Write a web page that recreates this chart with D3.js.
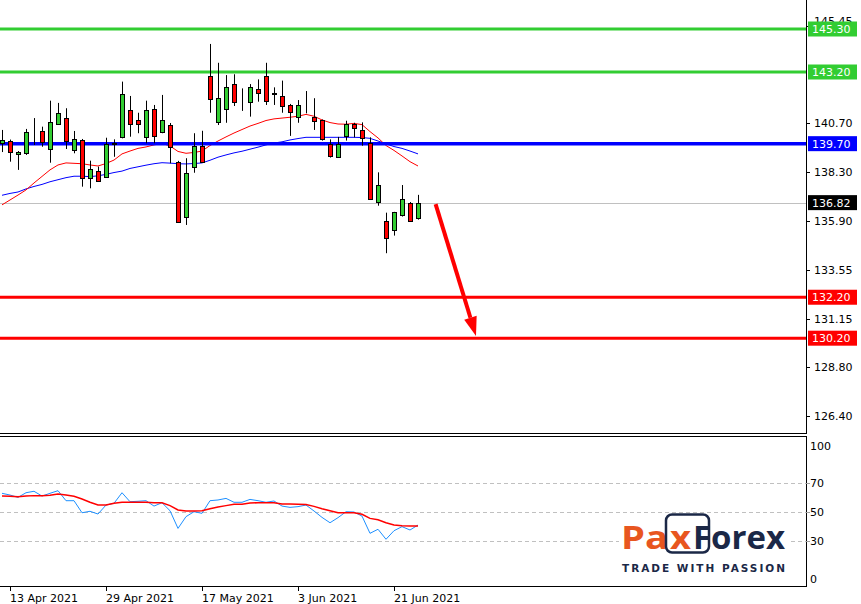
<!DOCTYPE html>
<html><head><meta charset="utf-8">
<script src="https://cdn.jsdelivr.net/npm/d3@7/dist/d3.min.js"></script>
<style>body{margin:0;background:#fff}svg{display:block}</style>
</head><body><svg id="c" width="861" height="604"></svg>
<script>
// ---------- DATA ----------
const dates = ["2021-04-12","2021-04-13","2021-04-14","2021-04-15","2021-04-16","2021-04-19","2021-04-20","2021-04-21","2021-04-22","2021-04-23","2021-04-26","2021-04-27","2021-04-28","2021-04-29","2021-04-30",
"2021-05-03","2021-05-04","2021-05-05","2021-05-06","2021-05-07","2021-05-10","2021-05-11","2021-05-12","2021-05-13","2021-05-14","2021-05-17","2021-05-18","2021-05-19","2021-05-20","2021-05-21","2021-05-24","2021-05-25","2021-05-26","2021-05-27","2021-05-28",
"2021-06-01","2021-06-02","2021-06-03","2021-06-04","2021-06-07","2021-06-08","2021-06-09","2021-06-10","2021-06-11","2021-06-14","2021-06-15","2021-06-16","2021-06-17","2021-06-18","2021-06-21","2021-06-22","2021-06-23","2021-06-24"];
const openP  = [139.72,139.85,139.18,139.26,140.55,140.32,139.44,140.65,140.94,139.39,139.88,138.01,138.35,138.07,139.70,140.04,141.34,140.86,140.01,141.39,140.29,140.61,138.79,136.11,138.58,139.59,143.01,140.74,141.39,142.61,141.77,141.75,142.36,143.01,142.15,142.03,141.59,141.02,141.77,140.99,140.86,139.69,139.07,140.09,140.66,140.37,139.72,136.84,135.93,135.49,136.22,136.82,136.06];
const highP  = [140.37,139.90,139.34,140.42,140.95,140.53,141.80,141.69,141.43,140.32,139.93,138.87,138.58,139.99,139.91,142.73,142.03,141.21,141.80,141.59,142.08,140.71,138.86,138.99,140.21,140.33,144.57,143.65,143.05,143.09,142.40,142.61,142.84,143.65,142.45,142.78,141.64,141.83,142.27,141.92,140.88,139.91,140.03,140.82,140.72,140.74,140.01,138.30,136.33,136.37,137.68,136.85,137.20];
const lowP   = [139.29,138.82,138.42,139.15,139.64,139.55,138.77,140.63,139.44,139.23,137.60,137.52,137.83,138.05,139.06,139.96,140.04,140.21,139.72,139.72,140.21,138.74,135.88,135.73,138.28,138.80,141.21,140.61,140.72,141.54,141.30,141.02,141.75,141.59,141.59,141.21,140.08,140.72,141.18,140.37,139.85,139.02,139.07,139.85,140.01,139.60,136.95,136.67,134.35,135.21,136.14,135.88,135.99];
const closeP = [139.88,139.31,139.31,140.26,140.58,139.80,140.74,141.18,139.85,139.91,138.04,138.45,137.88,139.69,139.72,142.11,140.66,140.65,141.34,140.08,140.86,139.52,135.89,138.25,139.59,138.82,141.87,141.92,142.45,141.72,141.79,142.45,142.16,141.80,142.17,141.54,141.26,141.59,141.78,140.82,139.91,139.10,139.69,140.66,140.48,139.96,136.98,137.68,135.08,136.35,136.98,135.93,136.82];
const maFast = [136.71,136.95,137.19,137.44,137.78,138.10,138.42,138.66,138.76,138.74,138.72,138.66,138.61,138.73,138.90,139.20,139.34,139.47,139.54,139.64,139.71,139.59,139.32,139.23,139.27,139.34,139.61,139.83,140.03,140.22,140.39,140.56,140.69,140.83,140.91,140.95,140.99,141.04,141.13,141.04,140.86,140.73,140.66,140.65,140.69,140.63,140.29,139.98,139.61,139.37,139.10,138.82,138.61];
const maSlow = [137.18,137.27,137.34,137.49,137.61,137.71,137.84,137.94,138.04,138.11,138.11,138.09,138.13,138.20,138.29,138.36,138.49,138.57,138.65,138.72,138.77,138.75,138.72,138.71,138.73,138.76,138.89,139.04,139.15,139.25,139.33,139.43,139.53,139.64,139.73,139.79,139.88,139.95,140.01,140.01,140.01,140.01,140.01,140.01,140.01,140.00,139.96,139.83,139.69,139.56,139.47,139.34,139.20];
const rsiMain = [63.1,61.9,60.3,63.5,64.5,61.2,63.1,64.9,58.0,58.0,49.7,50.7,48.8,55.0,56.2,63.5,57.3,57.6,58.0,54.3,56.6,51.1,38.9,47.0,50.4,49.3,58.0,58.5,59.6,56.9,56.9,58.9,58.0,56.9,57.8,54.3,53.4,53.9,55.0,50.9,46.5,42.8,46.3,50.4,50.2,47.4,35.5,38.3,31.4,37.3,40.1,37.8,41.2];
const rsiSignal = [61.2,61.0,60.8,61.2,61.5,61.5,61.7,62.6,61.9,61.0,59.2,56.9,55.0,55.0,56.2,56.9,56.9,56.9,56.9,56.6,56.6,54.6,51.6,50.9,50.9,51.1,52.5,53.7,54.6,55.5,55.5,56.4,56.6,56.6,56.6,55.7,55.7,55.5,55.3,54.1,52.5,51.1,49.7,49.7,49.7,48.6,45.8,44.9,42.8,41.2,40.8,40.6,40.6];
const resistanceLevels = [145.30, 143.20];
const pivotLevels = [139.70];
const supportLevels = [132.20, 130.20];
const lastPrice = 136.82;
const priceTicks = [145.45,140.70,138.30,135.90,133.55,131.15,128.80,126.40];
const rsiTicks = [100,70,50,30,0];
const rsiLevels = [70,50,30];
const xTickDates = ["2021-04-13","2021-04-29","2021-05-17","2021-06-03","2021-06-21"];
const xTickLabels = ["13 Apr 2021","29 Apr 2021","17 May 2021","3 Jun 2021","21 Jun 2021"];
const arrowStart = {bar: 54.2, price: 136.75};
const arrowEnd   = {bar: 59.25, price: 130.31};

// ---------- SCALES ----------
const svg = d3.select("#c");
const FONT = "'DejaVu Sans', Tahoma, sans-serif";
const axisX = 806;
const x = d3.scaleLinear().domain([0, 100]).range([2, 802]);
const y = d3.scaleLinear().domain([126.40, 145.30]).range([416, 29]);
const yr = d3.scaleLinear().domain([30, 70]).range([541.3, 483.3]);
const idx = d => dates.indexOf(d);
const GREEN = "#32cd32", RED = "#ff0000", BLUE = "#0000ff";

svg.append("defs").append("clipPath").attr("id","mainClip")
  .append("rect").attr("x",0).attr("y",0).attr("width",axisX).attr("height",433);

const main = svg.append("g").attr("clip-path","url(#mainClip)");

main.append("line").attr("x1",0).attr("x2",axisX)
  .attr("y1",Math.round(y(lastPrice))+0.5).attr("y2",Math.round(y(lastPrice))+0.5)
  .attr("stroke","#c0c0c0").attr("stroke-width",1);

function levelLine(v,color){
  main.append("line").attr("x1",0).attr("x2",axisX+3)
    .attr("y1",y(v)).attr("y2",y(v)).attr("stroke",color).attr("stroke-width",3);
}
resistanceLevels.forEach(v=>levelLine(v,GREEN));
supportLevels.forEach(v=>levelLine(v,RED));

const idxArr = d3.range(dates.length);
main.append("path").datum(idxArr).attr("fill","none").attr("stroke",BLUE).attr("stroke-width",1)
  .attr("d", d3.line().x(i=>x(i)).y(i=>y(maSlow[i])));
main.append("path").datum(idxArr).attr("fill","none").attr("stroke",RED).attr("stroke-width",1)
  .attr("d", d3.line().x(i=>x(i)).y(i=>y(maFast[i])));

pivotLevels.forEach(v=>{
  main.append("line").attr("x1",0).attr("x2",axisX+3)
    .attr("y1",y(v)).attr("y2",y(v)).attr("stroke",BLUE).attr("stroke-width",3.5);
});

const cg = main.append("g");
idxArr.forEach(i=>{
  const cx = Math.round(x(i));
  cg.append("line").attr("x1",cx+0.5).attr("x2",cx+0.5)
    .attr("y1",y(highP[i])).attr("y2",y(lowP[i])).attr("stroke","#000").attr("stroke-width",1);
  const top = Math.round(y(Math.max(openP[i],closeP[i])));
  const bot = Math.round(y(Math.min(openP[i],closeP[i])));
  cg.append("rect").attr("x",cx-1.5).attr("width",4)
    .attr("y",top+0.5).attr("height",Math.max(0,bot-top))
    .attr("fill", closeP[i]>=openP[i] ? GREEN : RED)
    .attr("stroke","#000").attr("stroke-width",1);
});

{
  const x0 = x(arrowStart.bar), y0 = y(arrowStart.price);
  const x1 = x(arrowEnd.bar), y1 = y(arrowEnd.price);
  const dx = x1-x0, dy = y1-y0, L = Math.hypot(dx,dy);
  const ux = dx/L, uy = dy/L, nx = -uy, ny = ux;
  const hl = 19, hw = 6.5;
  const bx = x1-ux*hl, by = y1-uy*hl;
  main.append("line").attr("x1",x0).attr("y1",y0).attr("x2",bx).attr("y2",by)
    .attr("stroke",RED).attr("stroke-width",4);
  main.append("polygon").attr("points",[[x1,y1],[bx+nx*hw,by+ny*hw],[bx-nx*hw,by-ny*hw]].map(p=>p.join(",")).join(" "))
    .attr("fill",RED);
}

// ---------- RIGHT PRICE AXIS ----------
svg.append("line").attr("x1",axisX+0.5).attr("x2",axisX+0.5).attr("y1",0).attr("y2",433.5).attr("stroke","#000");
svg.append("line").attr("x1",0).attr("x2",axisX+1).attr("y1",433.5).attr("y2",433.5).attr("stroke","#000");
const pa = svg.append("g");
priceTicks.forEach(t=>{
  const yy = Math.round(y(t))+0.5;
  const top = t > 145;
  pa.append("line").attr("x1",axisX).attr("x2",axisX+4).attr("y1",yy).attr("y2",yy).attr("stroke","#000");
  pa.append("text").attr("x",814).attr("y",top ? 21 : y(t)).attr("dy","0.36em")
    .attr("font-family",FONT).attr("font-size",11).attr("fill","#000").text(t.toFixed(2));
});
function priceLabel(v,bg){
  const yy = y(v);
  pa.append("rect").attr("x",808).attr("y",yy-7.5).attr("width",49).attr("height",15).attr("fill",bg);
  pa.append("text").attr("x",812).attr("y",yy).attr("dy","0.36em")
    .attr("font-family",FONT).attr("font-size",11).attr("fill","#fff").text(v.toFixed(2));
}
resistanceLevels.forEach(v=>priceLabel(v,GREEN));
pivotLevels.forEach(v=>priceLabel(v,BLUE));
priceLabel(lastPrice,"#000");
supportLevels.forEach(v=>priceLabel(v,RED));

// ---------- RSI PANEL ----------
svg.append("line").attr("x1",0).attr("x2",axisX+1).attr("y1",436.5).attr("y2",436.5).attr("stroke","#000");
svg.append("line").attr("x1",axisX+0.5).attr("x2",axisX+0.5).attr("y1",436.5).attr("y2",586.5).attr("stroke","#000");
svg.append("line").attr("x1",0).attr("x2",axisX+1).attr("y1",586.5).attr("y2",586.5).attr("stroke","#000");
const rg = svg.append("g");
rsiLevels.forEach(v=>{
  const yy = Math.round(yr(v))+0.5;
  rg.append("line").attr("x1",0).attr("x2",axisX).attr("y1",yy).attr("y2",yy)
    .attr("stroke","#c0c0c0").attr("stroke-dasharray","4,3");
  rg.append("line").attr("x1",axisX).attr("x2",axisX+4).attr("y1",yy).attr("y2",yy).attr("stroke","#a0a0a0");
});
rsiTicks.forEach(v=>{
  let yy = yr(v);
  yy = Math.max(446, Math.min(579, yy));
  rg.append("text").attr("x",810).attr("y",yy).attr("dy","0.36em")
    .attr("font-family",FONT).attr("font-size",11).attr("fill","#000").text(v);
});
rg.append("path").datum(idxArr).attr("fill","none").attr("stroke","#1e90ff").attr("stroke-width",1)
  .attr("d", d3.line().x(i=>x(i)).y(i=>yr(rsiMain[i])));
rg.append("path").datum(idxArr).attr("fill","none").attr("stroke",RED).attr("stroke-width",1.5)
  .attr("d", d3.line().x(i=>x(i)).y(i=>yr(rsiSignal[i])));

// ---------- X AXIS ----------
xTickDates.forEach((d,k)=>{
  const xx = Math.round(x(idx(d)))+0.5;
  svg.append("line").attr("x1",xx).attr("x2",xx).attr("y1",586).attr("y2",591).attr("stroke","#000");
  svg.append("text").attr("x",xx-0.5).attr("y",598).attr("dy","0.36em")
    .attr("font-family",FONT).attr("font-size",11).attr("fill","#000").text(xTickLabels[k]);
});

// ---------- LOGO ----------
const lg = svg.append("g");
lg.append("rect").attr("x",619).attr("y",515).attr("width",172).attr("height",62).attr("fill","#fff");
const ORANGE = "#e8561f", NAVY = "#1b2847";
lg.append("text").attr("x",621).attr("y",549).attr("font-family","'Open Sans', 'DejaVu Sans', sans-serif")
  .attr("font-weight",700).attr("font-size",33).attr("fill",ORANGE).attr("textLength",47).attr("lengthAdjust","spacingAndGlyphs").text("Pa");
lg.append("rect").attr("x",666).attr("y",514.5).attr("width",43).attr("height",38).attr("rx",6)
  .attr("fill","none").attr("stroke",NAVY).attr("stroke-width",2.5);
lg.append("text").attr("x",670).attr("y",549).attr("font-family","'Open Sans', 'DejaVu Sans', sans-serif")
  .attr("font-weight",700).attr("font-size",33).attr("fill",ORANGE).attr("textLength",21).attr("lengthAdjust","spacingAndGlyphs").text("x");
lg.append("text").attr("x",693).attr("y",549).attr("font-family","'Open Sans', 'DejaVu Sans', sans-serif")
  .attr("font-weight",700).attr("font-size",33).attr("fill",NAVY).attr("textLength",92).attr("lengthAdjust","spacingAndGlyphs").text("Forex");
lg.append("text").attr("x",622).attr("y",572).attr("font-family","'DejaVu Sans', sans-serif")
  .attr("font-weight",700).attr("font-size",10.5).attr("fill",NAVY).attr("textLength",163).attr("lengthAdjust","spacing").text("TRADE WITH PASSION");
</script></body></html>
